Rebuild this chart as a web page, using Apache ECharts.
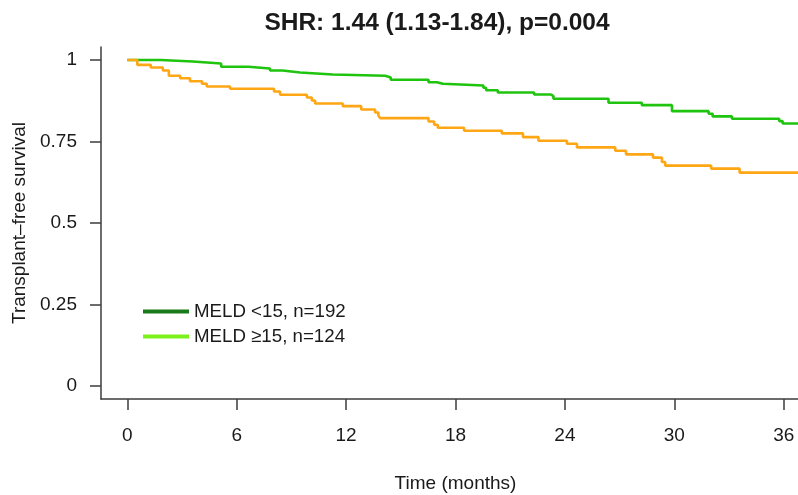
<!DOCTYPE html>
<html>
<head>
<meta charset="utf-8">
<script src="https://cdn.jsdelivr.net/npm/echarts@6/dist/echarts.min.js"></script>
<style>
html,body{margin:0;padding:0;background:#fff;}
#chart{width:798px;height:495px;}
</style>
</head>
<body>
<div id="chart"></div>
<script>
const titleText = 'SHR: 1.44 (1.13-1.84), p=0.004';
const seriesNames = ['MELD <15, n=192', 'MELD \u226515, n=124'];
const xTicks = [0, 6, 12, 18, 24, 30, 36];
const yTicks = [0, 0.25, 0.5, 0.75, 1];
const yTickLabels = ['0', '0.25', '0.5', '0.75', '1'];

const lowTimes = [0, 1.84, 3.59, 5.15, 6.64, 7.83, 8.51, 9.48, 11.27, 14.14, 14.45, 16.52, 16.98, 17.31, 19.53, 19.68, 20.32, 22.31, 23.23, 23.37, 26.39, 28.22, 29.87, 31.88, 32.10, 33.16, 35.75, 35.94, 37.44];
const lowSurv  = [1, 0.9954, 0.9893, 0.9792, 0.9740, 0.9678, 0.9617, 0.9556, 0.9516, 0.9464, 0.9394, 0.9320, 0.9271, 0.9219, 0.9149, 0.9075, 0.9005, 0.8943, 0.8891, 0.8812, 0.8689, 0.8616, 0.8432, 0.8352, 0.8270, 0.8199, 0.8126, 0.8055, 0.8055];

const highTimes = [0, 0.55, 1.29, 1.95, 2.28, 2.90, 3.44, 4.10, 4.36, 5.64, 8.05, 8.38, 9.85, 10.12, 10.30, 11.82, 12.83, 13.59, 13.77, 13.87, 16.52, 16.83, 17.03, 18.47, 20.54, 21.70, 22.55, 24.11, 24.66, 26.76, 27.35, 28.83, 29.32, 29.50, 32.02, 33.58, 37.44];
const highSurv  = [1, 0.9853, 0.9770, 0.9678, 0.9516, 0.9443, 0.9351, 0.9271, 0.9188, 0.9118, 0.9035, 0.8934, 0.8851, 0.8760, 0.8668, 0.8585, 0.8484, 0.8392, 0.8300, 0.8218, 0.8116, 0.8015, 0.7923, 0.7831, 0.7749, 0.7636, 0.7525, 0.7433, 0.7320, 0.7219, 0.7106, 0.7005, 0.6870, 0.6760, 0.6668, 0.6545, 0.6545];

const FONT = '"Liberation Sans", Arial, Helvetica, sans-serif';
const axisColor = '#3c3c3c';
const textColor = '#1a1a1a';

function pairs(xs, ys) { return xs.map((x, i) => [x, ys[i]]); }

const chart = echarts.init(document.getElementById('chart'), null, {renderer: 'canvas'});
chart.setOption({
  animation: false,
  backgroundColor: '#ffffff',
  textStyle: {fontFamily: FONT, color: textColor},
  title: {
    text: titleText,
    left: 432,
    top: 6,
    textAlign: 'center',
    textStyle: {fontFamily: FONT, fontSize: 24.5, fontWeight: 'bold', color: textColor}
  },
  legend: {
    orient: 'vertical',
    left: 143,
    top: 302,
    padding: 0,
    itemWidth: 46,
    itemHeight: 4,
    itemGap: 6,
    selectedMode: false,
    textStyle: {fontFamily: FONT, fontSize: 18.7, color: textColor, padding: [0, 0, 0, 0]},
    data: [
      {name: seriesNames[0], icon: 'rect', itemStyle: {color: '#1a7a1a'}},
      {name: seriesNames[1], icon: 'rect', itemStyle: {color: '#7cf21a'}}
    ]
  },
  grid: {left: 101, top: 47, width: 709, height: 352, containLabel: false, outerBoundsMode: 'none'},
  xAxis: {
    type: 'value',
    min: -1.44,
    max: 37.44,
    name: 'Time (months)',
    nameLocation: 'middle',
    nameGap: 75,
    nameTextStyle: {fontFamily: FONT, fontSize: 19, color: textColor},
    axisLine: {show: true, onZero: false, lineStyle: {color: axisColor, width: 1.5}},
    axisTick: {show: true, length: 11, customValues: xTicks, lineStyle: {color: axisColor, width: 1.5}},
    axisLabel: {customValues: xTicks, margin: 27, fontFamily: FONT, fontSize: 19, color: textColor},
    splitLine: {show: false}
  },
  yAxis: {
    type: 'value',
    min: -0.04,
    max: 1.04,
    name: 'Transplant\u2013free survival',
    nameLocation: 'middle',
    nameGap: 70,
    nameTextStyle: {fontFamily: FONT, fontSize: 19, color: textColor},
    axisLine: {show: true, onZero: false, lineStyle: {color: axisColor, width: 1.5}},
    axisTick: {show: true, length: 11, customValues: yTicks, lineStyle: {color: axisColor, width: 1.5}},
    axisLabel: {
      customValues: yTicks,
      margin: 24,
      fontFamily: FONT, fontSize: 19, color: textColor,
      formatter: function (v) { const i = yTicks.indexOf(v); return i >= 0 ? yTickLabels[i] : ''; }
    },
    splitLine: {show: false}
  },
  series: [
    {
      name: seriesNames[0],
      type: 'line',
      step: 'end',
      symbol: 'none',
      data: pairs(lowTimes, lowSurv),
      lineStyle: {color: '#1fc40f', width: 2.6},
      itemStyle: {color: '#1fc40f'}
    },
    {
      name: seriesNames[1],
      type: 'line',
      step: 'end',
      symbol: 'none',
      data: pairs(highTimes, highSurv),
      lineStyle: {color: '#ffa614', width: 2.6},
      itemStyle: {color: '#ffa614'}
    }
  ]
});
</script>
</body>
</html>
